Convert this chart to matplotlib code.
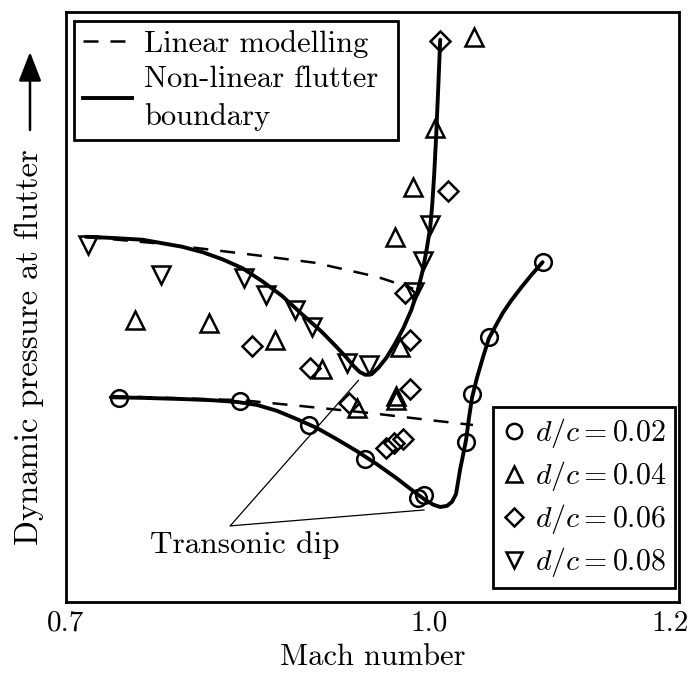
import matplotlib
matplotlib.use("Agg")
import matplotlib.pyplot as plt
from matplotlib.lines import Line2D

plt.rcParams["font.family"] = "cmr10"
plt.rcParams["mathtext.fontset"] = "cm"
plt.rcParams["axes.unicode_minus"] = False
plt.rcParams["axes.formatter.use_mathtext"] = True

# ---- measured flutter points (Mach, dynamic pressure, arbitrary units) ----
mach_02 = [0.7436, 0.8440, 0.9008, 0.9469, 0.9914, 0.9963, 1.0309, 1.0358, 1.0498, 1.0942]
q_02 = [0.346, 0.341, 0.300, 0.242, 0.176, 0.181, 0.271, 0.353, 0.449, 0.576]

mach_04 = [0.7568, 0.8185, 0.8728, 0.9115, 0.9403, 0.9765, 0.9733, 0.9733,
           0.9724, 0.9872, 1.0053, 1.0374]
q_04 = [0.478, 0.473, 0.444, 0.395, 0.329, 0.432, 0.349, 0.342,
        0.619, 0.703, 0.803, 0.958]

mach_06 = [1.0095, 1.0160, 0.9807, 0.9848, 0.9848, 0.9016, 0.9337, 0.8539,
           0.9650, 0.9716, 0.9790]
q_06 = [0.951, 0.697, 0.524, 0.444, 0.361, 0.397, 0.337, 0.434,
        0.261, 0.269, 0.276]

mach_08 = [0.7181, 0.7782, 0.8473, 0.8654, 0.8893, 0.9033, 0.9321, 0.9510,
           0.9881, 0.9955, 1.0012]
q_08 = [0.605, 0.554, 0.549, 0.520, 0.495, 0.466, 0.405, 0.402,
        0.525, 0.578, 0.639]

# ---- non-linear flutter boundaries ----
nl_upper_mach = [0.7165, 0.7387, 0.7634, 0.7798, 0.7963, 0.8128, 0.8292, 0.8457,
                 0.8621, 0.8786, 0.8951, 0.9115, 0.9239, 0.9321, 0.9379, 0.9428,
                 0.9477, 0.9527, 0.9584, 0.9650, 0.9716, 0.9790, 0.9856, 0.9905,
                 0.9947, 0.9979, 1.0012, 1.0029, 1.0045, 1.0062, 1.0078, 1.0095]
nl_upper_q = [0.619, 0.617, 0.614, 0.608, 0.602, 0.593, 0.581, 0.566,
              0.544, 0.519, 0.488, 0.458, 0.432, 0.414, 0.400, 0.390,
              0.385, 0.386, 0.397, 0.414, 0.436, 0.464, 0.495, 0.525,
              0.559, 0.593, 0.634, 0.673, 0.724, 0.792, 0.868, 0.953]

nl_lower_mach = [0.7370, 0.7634, 0.7963, 0.8210, 0.8416, 0.8580, 0.8745, 0.8909,
                 0.9074, 0.9239, 0.9403, 0.9568, 0.9733, 0.9872, 0.9971, 1.0037,
                 1.0095, 1.0152, 1.0193, 1.0226, 1.0259, 1.0284, 1.0309, 1.0333,
                 1.0358, 1.0399, 1.0449, 1.0498, 1.0556, 1.0613, 1.0679, 1.0761,
                 1.0844, 1.0942]
nl_lower_q = [0.347, 0.346, 0.344, 0.342, 0.339, 0.334, 0.324, 0.310,
              0.295, 0.276, 0.256, 0.234, 0.210, 0.188, 0.173, 0.165,
              0.161, 0.163, 0.170, 0.183, 0.224, 0.249, 0.275, 0.312,
              0.346, 0.380, 0.415, 0.447, 0.469, 0.490, 0.510, 0.532,
              0.553, 0.576]

# ---- linear predictions ----
lin_upper_mach = [0.7165, 0.7798, 0.8564, 0.9058, 0.9576, 0.9872]
lin_upper_q = [0.619, 0.607, 0.588, 0.575, 0.551, 0.531]

lin_lower_mach = [0.7370, 0.8457, 0.8951, 0.9527, 1.0021, 1.0366]
lin_lower_q = [0.349, 0.342, 0.332, 0.320, 0.308, 0.300]

series_labels = [r"$d/c = 0.02$", r"$d/c = 0.04$", r"$d/c = 0.06$", r"$d/c = 0.08$"]

fig = plt.figure(figsize=(6.94, 6.86), dpi=100)
ax = fig.add_axes([66 / 694, 84 / 686, 613 / 694, 590 / 686])

dash = (6, 4.8)
ax.plot(lin_upper_mach, lin_upper_q, color="k", lw=1.8, dashes=dash)
ax.plot(lin_lower_mach, lin_lower_q, color="k", lw=1.8, dashes=dash)
ax.plot(nl_upper_mach, nl_upper_q, color="k", lw=2.8,
        solid_capstyle="round", solid_joinstyle="round")
ax.plot(nl_lower_mach, nl_lower_q, color="k", lw=2.8,
        solid_capstyle="round", solid_joinstyle="round")

mk = dict(linestyle="none", mfc="none", mec="k", mew=1.8)
ax.plot(mach_02, q_02, marker="o", ms=12, **mk)
ax.plot(mach_04, q_04, marker="^", ms=13, **mk)
ax.plot(mach_06, q_06, marker="D", ms=10, **mk)
ax.plot(mach_08, q_08, marker="v", ms=13, **mk)

# transonic dip callout
dip_origin = (0.8358, 0.129)
ax.text(0.8481, 0.097, "Transonic dip", fontsize=22.5, ha="center", va="center")
for target in [(0.942, 0.376), (0.9963, 0.156)]:
    ax.annotate("", xy=target, xytext=dip_origin,
                arrowprops=dict(arrowstyle="-", lw=0.9, color="k",
                                shrinkA=0, shrinkB=0))

ax.set_xlim(0.7025, 1.207)
ax.set_ylim(0, 1)
ax.set_xticks([0.7, 1.0, 1.2])
ax.set_xticklabels(["0.7", "1.0", "1.2"])
ax.set_yticks([])
ax.tick_params(axis="x", length=0, pad=6, labelsize=21)
for s in ax.spines.values():
    s.set_linewidth(2.0)

ax.set_xlabel("Mach number", fontsize=22, labelpad=5)
ax.set_ylabel("Dynamic pressure at flutter", fontsize=23.5)
ax.yaxis.set_label_coords(-0.036, 0.432)

# arrow beside the y label
ax.annotate("", xy=(30, 686 - 52), xytext=(30, 686 - 130),
            xycoords="figure pixels", textcoords="figure pixels",
            arrowprops=dict(arrowstyle="-|>,head_length=0.9,head_width=0.35",
                            mutation_scale=20, lw=1.8, color="k",
                            shrinkA=0, shrinkB=0))

# legends
line_handles = [
    Line2D([], [], color="k", lw=1.8, dashes=dash),
    Line2D([], [], color="k", lw=2.8),
]
leg1 = ax.legend(line_handles, ["Linear modelling", "Non-linear flutter\nboundary"],
                 loc="upper left", bbox_to_anchor=(0.013, 0.5, 0.5285, 0.485),
                 mode="expand", borderaxespad=0, fontsize=22, handlelength=1.6,
                 handletextpad=0.4, labelspacing=0.25, borderpad=0.3,
                 fancybox=False, framealpha=1, edgecolor="k")
leg1.get_frame().set_linewidth(2.0)
for t in leg1.get_texts():
    t.set_linespacing(1.45)
ax.add_artist(leg1)

marker_handles = [
    Line2D([], [], marker=m, ms=s, **mk)
    for m, s in zip(["o", "^", "D", "v"], [11, 11, 9, 11])
]
leg2 = ax.legend(marker_handles, series_labels,
                 loc="lower right", bbox_to_anchor=(0.9935, 0.0237),
                 borderaxespad=0, fontsize=21.5, handlelength=0.8,
                 handletextpad=0.3, labelspacing=0.3, borderpad=0.3,
                 fancybox=False, framealpha=1, edgecolor="k")
leg2.get_frame().set_linewidth(2.0)

fig.savefig("out.png", dpi=100)
